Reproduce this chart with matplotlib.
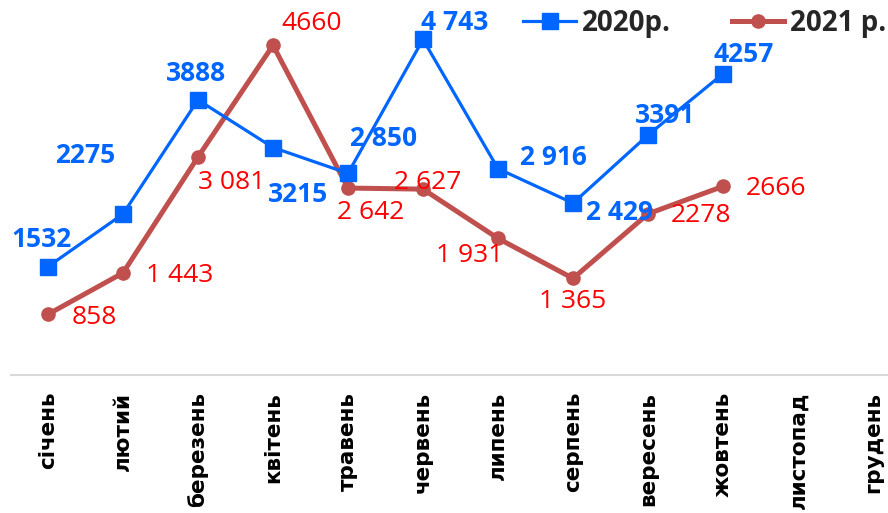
import matplotlib
matplotlib.use("Agg")
import matplotlib.pyplot as plt
from matplotlib.lines import Line2D

months = ["січень", "лютий", "березень", "квітень", "травень", "червень",
          "липень", "серпень", "вересень", "жовтень", "листопад", "грудень"]
s2020 = [1532, 2275, 3888, 3215, 2850, 4743, 2916, 2429, 3391, 4257]
s2021 = [858, 1443, 3081, 4660, 2642, 2627, 1931, 1365, 2278, 2666]
lab2020 = ["1532", "2275", "3888", "3215", "2 850", "4 743", "2 916", "2 429", "3391", "4257"]
lab2021 = ["858", "1 443", "3 081", "4660", "2 642", "2 627", "1 931", "1 365", "2278", "2666"]
name2020 = "2020р."
name2021 = "2021 р."

# label offsets in pixels (dx, dy) relative to point
off2020 = [(-6, 27), (-38, 59), (-2, 26), (25, -47), (36, 35), (32, 17),
           (55, 11), (46, -9), (17, 20), (21, 19)]
off2021 = [(46, -3), (57, -3), (34, -25), (39, 22), (23, -24), (5, 7),
           (-28, -17), (0, -23), (53, -2), (53, -2)]

blue = "#0066FF"
red_line = "#C0504D"
red_text = "#FF0000"

fig = plt.figure(figsize=(8.88, 5.13), dpi=100)
ax = fig.add_axes([10.5 / 888, 138 / 513, 900 / 888, 375 / 513])

x = list(range(len(months)))
x20 = x[:len(s2020)]
x21 = x[:len(s2021)]

ax.plot(x21, s2021, color=red_line, lw=3.6, marker="o", ms=9.5, zorder=2)
ax.plot(x20, s2020, color=blue, lw=2.3, marker="s", ms=12, zorder=3)

for xi, v, t, (dx, dy) in zip(x20, s2020, lab2020, off2020):
    ax.annotate(t, (xi, v), xytext=(dx, dy), textcoords="offset pixels",
                ha="center", va="center", color=blue, fontsize=19,
                fontweight="bold", family="Open Sans", zorder=5)
for xi, v, t, (dx, dy) in zip(x21, s2021, lab2021, off2021):
    ax.annotate(t, (xi, v), xytext=(dx, dy), textcoords="offset pixels",
                ha="center", va="center", color=red_text, fontsize=19,
                family="Open Sans", zorder=5)

ax.set_xlim(-0.5, len(months) - 0.5)
ax.set_ylim(0, 5300)
ax.set_xticks(x)
ax.set_xticklabels(months, rotation=90, fontsize=15.5, fontweight="bold",
                   family="DejaVu Sans", va="top", ha="center")
ax.tick_params(axis="x", length=0, pad=12)
ax.set_yticks([])
for s in ["top", "right", "left"]:
    ax.spines[s].set_visible(False)
ax.spines["bottom"].set_color("#D9D9D9")
ax.spines["bottom"].set_linewidth(1.5)

h1 = Line2D([], [], color=blue, lw=2.3, marker="s", ms=12)
h2 = Line2D([], [], color=red_line, lw=3.6, marker="o", ms=9.5)
leg = fig.legend([h1, h2], [name2020, name2021], loc="upper left",
                 bbox_to_anchor=(512 / 888, 1.004), ncol=2, frameon=False,
                 prop={"family": "Open Sans", "weight": "bold", "size": 20},
                 handlelength=1.9, handletextpad=0.2, columnspacing=2.2,
                 borderaxespad=0)
for t in leg.get_texts():
    t.set_color("#262626")

fig.savefig("out.png", dpi=100)
